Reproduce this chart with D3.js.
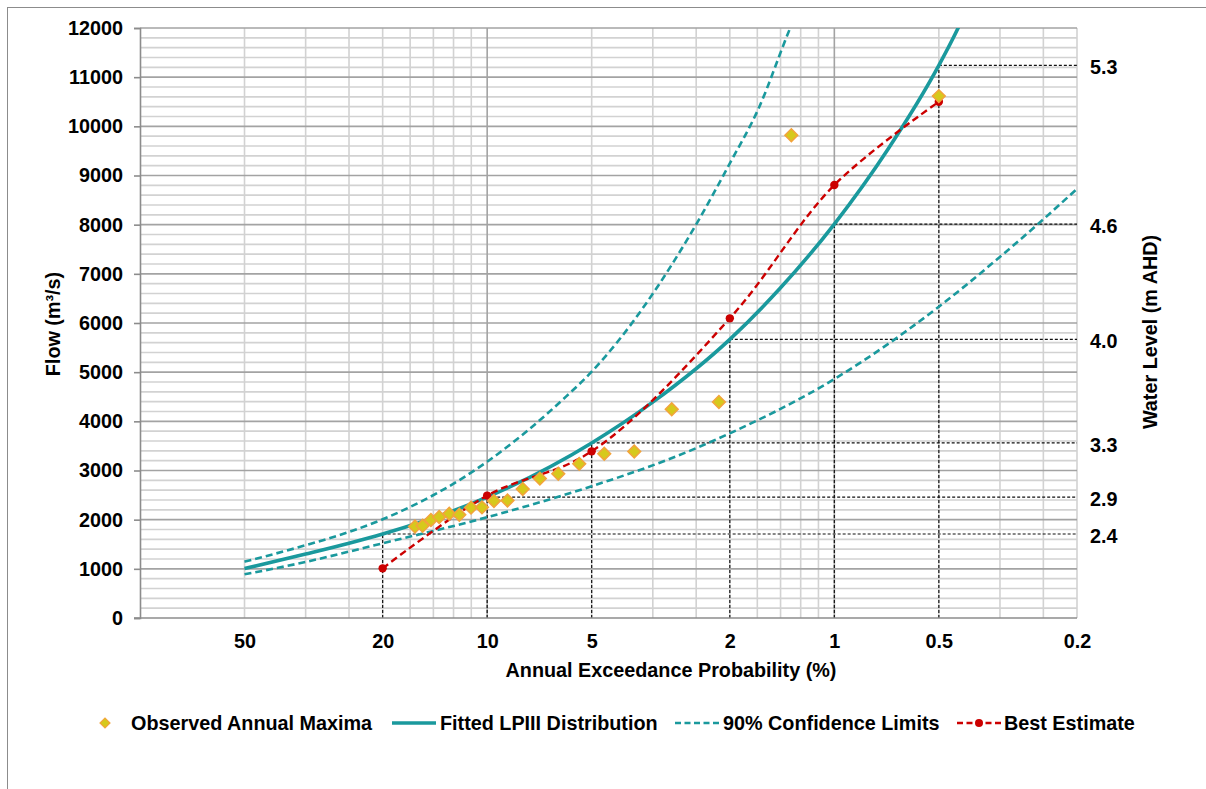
<!DOCTYPE html>
<html>
<head>
<meta charset="utf-8">
<script src="https://cdn.jsdelivr.net/npm/d3@7"></script>
<style>
  html, body { margin: 0; padding: 0; background: #ffffff; }
  svg { display: block; font-family: "Liberation Sans", Arial, sans-serif; }
  text { font-weight: bold; fill: #000; }
</style>
</head>
<body>
<svg id="chart" width="1206" height="789"></svg>
<script>
// ---------------- DATA ----------------
const xTickLabels = [50, 20, 10, 5, 2, 1, 0.5, 0.2];          // AEP %
const yTickValues = [0,1000,2000,3000,4000,5000,6000,7000,8000,9000,10000,11000,12000];
const gridARI = [1,2,3,4,5,6,7,8,9,10,20,30,40,50,60,70,80,90,100,200,300,400,500];
const majorARI = [1, 10, 100];

// Observed annual maxima (AEP %, flow m3/s)
const obsAEP  = [16.14, 15.34, 14.52, 13.75, 12.86, 12.03, 11.13, 10.35, 9.56, 8.74, 7.90, 7.05, 6.24, 5.43, 4.60, 3.77, 2.94, 2.15, 1.33, 0.50];
const obsFlow = [1860, 1875, 1995, 2055, 2120, 2100, 2245, 2250, 2380, 2390, 2625, 2835, 2935, 3135, 3340, 3385, 4245, 4395, 9820, 10615];

// Fitted LPIII distribution
const fitAEP  = [50, 33.33, 25, 20, 10, 5, 3.32, 2, 1.435, 1, 0.7, 0.5, 0.44, 0.4];
const fitFlow = [1005, 1300, 1520, 1708, 2457, 3560, 4400, 5668, 6700, 8013, 9540, 11240, 12000, 12650];

// 90% confidence limits
const upAEP  = [50, 33.33, 25, 20, 10, 6.04, 5, 2.49, 2, 1.656, 1.34, 1.25];
const upFlow = [1145, 1480, 1750, 2007, 3179, 4450, 5010, 8027, 9247, 10350, 12000, 12500];
const loAEP  = [50, 33.33, 25, 20, 10, 5, 3, 2, 1, 0.5, 0.333, 0.259, 0.2];
const loFlow = [889, 1140, 1350, 1519, 2050, 2680, 3228, 3756, 4860, 6331, 7348, 8013, 8730];

// Best estimate
const bestAEP  = [20, 10, 5, 2, 1, 0.5];
const bestFlow = [1010, 2490, 3390, 6095, 8806, 10500];

// Water level reference lines
const refAEP   = [20, 10, 5, 2, 1, 0.5];
const refFlow  = [1708, 2457, 3560, 5668, 8013, 11240];
const refLevel = ["2.4", "2.9", "3.3", "4.0", "4.6", "5.3"];

// Legend
const legendLabels = ["Observed Annual Maxima", "Fitted LPIII Distribution", "90% Confidence Limits", "Best Estimate"];

// ---------------- STYLE ----------------
const TEAL = "#1a999d", RED = "#cc0000", DIA_FILL = "#d6c91c", DIA_STROKE = "#f3a33c";
const FS = 19.8;

const svg = d3.select("#chart");
const L = 140, R = 1077, T = 28, B = 618;

const x = d3.scaleLog().domain([100, 0.2]).range([L, R]);
const y = d3.scaleLinear().domain([0, 12000]).range([B, T]);

// outer chart border
svg.append("rect").attr("x", 7.5).attr("y", 7.5).attr("width", 1230).attr("height", 820)
  .attr("fill", "none").attr("stroke", "#8c8c8c").attr("stroke-width", 1);

svg.append("defs").append("clipPath").attr("id", "plotclip")
  .append("rect").attr("x", L).attr("y", T).attr("width", R - L).attr("height", B - T);

// ---------------- GRID ----------------
const grid = svg.append("g");
const hMinor = d3.range(0, 12001, 200).filter(v => v % 1000 !== 0);
grid.selectAll(".hmin").data(hMinor).join("line")
  .attr("x1", L).attr("x2", R).attr("y1", d => y(d)).attr("y2", d => y(d))
  .attr("stroke", "#d2d2d2").attr("stroke-width", 1.6);
grid.selectAll(".vmin").data(gridARI.filter(a => !majorARI.includes(a))).join("line")
  .attr("x1", d => x(100 / d)).attr("x2", d => x(100 / d)).attr("y1", T).attr("y2", B)
  .attr("stroke", "#d2d2d2").attr("stroke-width", 1.6);
grid.selectAll(".hmaj").data(yTickValues.filter(v => v > 0)).join("line")
  .attr("x1", L).attr("x2", R).attr("y1", d => y(d)).attr("y2", d => y(d))
  .attr("stroke", "#a3a3a3").attr("stroke-width", 1.6);
grid.selectAll(".vmaj").data(majorARI.filter(a => a > 1)).join("line")
  .attr("x1", d => x(100 / d)).attr("x2", d => x(100 / d)).attr("y1", T).attr("y2", B)
  .attr("stroke", "#a3a3a3").attr("stroke-width", 1.6);

// ---------------- REFERENCE LINES ----------------
const refs = svg.append("g");
refs.selectAll(".rv").data(refAEP).join("line")
  .attr("x1", d => x(d)).attr("x2", d => x(d))
  .attr("y1", B).attr("y2", (d, i) => y(refFlow[i]))
  .attr("stroke", "#111").attr("stroke-width", 1.2).attr("stroke-dasharray", "3,2");
refs.selectAll(".rh").data(refAEP).join("line")
  .attr("x1", d => x(d)).attr("x2", R)
  .attr("y1", (d, i) => y(refFlow[i])).attr("y2", (d, i) => y(refFlow[i]))
  .attr("stroke", "#111").attr("stroke-width", 1.2).attr("stroke-dasharray", "3,2");

// ---------------- AXES ----------------
const yAxis = svg.append("g").attr("transform", `translate(${L},0)`)
  .call(d3.axisLeft(y).tickValues(yTickValues).tickSize(6).tickPadding(11).tickFormat(d3.format("d")));
yAxis.select(".domain").attr("stroke", "#8c8c8c").attr("stroke-width", 1.6);
yAxis.selectAll(".tick line").attr("stroke", "#8c8c8c").attr("stroke-width", 1.6);
yAxis.selectAll("text").attr("font-size", FS).attr("font-weight", "bold")
  .attr("font-family", "Liberation Sans, Arial, sans-serif").attr("fill", "#000");

const xAxis = svg.append("g").attr("transform", `translate(0,${B})`)
  .call(d3.axisBottom(x).tickValues(xTickLabels).tickSize(0).tickPadding(16).tickFormat(d => String(d)));
xAxis.select(".domain").attr("stroke", "#8c8c8c").attr("stroke-width", 1.6)
  .attr("d", `M${L - 6},0H${R}`);
xAxis.selectAll("text").attr("font-size", FS).attr("font-weight", "bold")
  .attr("font-family", "Liberation Sans, Arial, sans-serif").attr("fill", "#000");

// right water level labels
svg.append("g").selectAll("text").data(refLevel).join("text")
  .attr("x", 1090).attr("y", (d, i) => y(refFlow[i]) + 2)
  .attr("dominant-baseline", "central").attr("font-size", FS).text(d => d);

// titles
svg.append("text").attr("transform", "translate(53,324) rotate(-90)")
  .attr("text-anchor", "middle").attr("dominant-baseline", "central").attr("font-size", FS)
  .text("Flow (m³/s)");
svg.append("text").attr("transform", "translate(1150,332) rotate(-90)")
  .attr("text-anchor", "middle").attr("dominant-baseline", "central").attr("font-size", FS)
  .text("Water Level (m AHD)");
svg.append("text").attr("x", 671).attr("y", 670)
  .attr("text-anchor", "middle").attr("dominant-baseline", "central").attr("font-size", FS)
  .text("Annual Exceedance Probability (%)");

// ---------------- SERIES ----------------
const plot = svg.append("g").attr("clip-path", "url(#plotclip)");
const line = d3.line().x(d => x(d[0])).y(d => y(d[1])).curve(d3.curveMonotoneX);
const zip = (a, b) => a.map((v, i) => [v, b[i]]);

plot.append("path").datum(zip(upAEP, upFlow)).attr("d", line)
  .attr("fill", "none").attr("stroke", TEAL).attr("stroke-width", 2.6).attr("stroke-dasharray", "7,4");
plot.append("path").datum(zip(loAEP, loFlow)).attr("d", line)
  .attr("fill", "none").attr("stroke", TEAL).attr("stroke-width", 2.6).attr("stroke-dasharray", "7,4");
plot.append("path").datum(zip(fitAEP, fitFlow)).attr("d", line)
  .attr("fill", "none").attr("stroke", TEAL).attr("stroke-width", 3.6);

const bestLine = d3.line().x(d => x(d[0])).y(d => y(d[1])).curve(d3.curveCatmullRom.alpha(0.5));
plot.append("path").datum(zip(bestAEP, bestFlow)).attr("d", bestLine)
  .attr("fill", "none").attr("stroke", RED).attr("stroke-width", 2.4).attr("stroke-dasharray", "7,4");
plot.selectAll(".bdot").data(zip(bestAEP, bestFlow)).join("circle")
  .attr("cx", d => x(d[0])).attr("cy", d => y(d[1])).attr("r", 4.2).attr("fill", RED);

const diamond = d3.symbol().type(d3.symbolSquare).size(82);
svg.append("g").selectAll("path").data(zip(obsAEP, obsFlow)).join("path")
  .attr("d", diamond)
  .attr("transform", d => `translate(${x(d[0])},${y(d[1])}) rotate(45)`)
  .attr("fill", DIA_FILL).attr("stroke", DIA_STROKE).attr("stroke-width", 1.5);

// ---------------- LEGEND ----------------
const LY = 723;
const lg = svg.append("g");
lg.append("path").attr("d", d3.symbol().type(d3.symbolSquare).size(50)())
  .attr("transform", `translate(105,${LY}) rotate(45)`)
  .attr("fill", DIA_FILL).attr("stroke", DIA_STROKE).attr("stroke-width", 1.2);
lg.append("line").attr("x1", 392).attr("x2", 436).attr("y1", LY).attr("y2", LY)
  .attr("stroke", TEAL).attr("stroke-width", 3.6);
lg.append("line").attr("x1", 675).attr("x2", 720).attr("y1", LY).attr("y2", LY)
  .attr("stroke", TEAL).attr("stroke-width", 2.4).attr("stroke-dasharray", "6,3.5");
lg.append("line").attr("x1", 957).attr("x2", 1001).attr("y1", LY).attr("y2", LY)
  .attr("stroke", RED).attr("stroke-width", 2.4).attr("stroke-dasharray", "6,3.5");
lg.append("circle").attr("cx", 979).attr("cy", LY).attr("r", 4).attr("fill", RED);
const legX = [131, 440, 723, 1004];
lg.selectAll("text").data(legendLabels).join("text")
  .attr("x", (d, i) => legX[i]).attr("y", LY)
  .attr("dominant-baseline", "central").attr("font-size", FS).text(d => d);
</script>
</body>
</html>
